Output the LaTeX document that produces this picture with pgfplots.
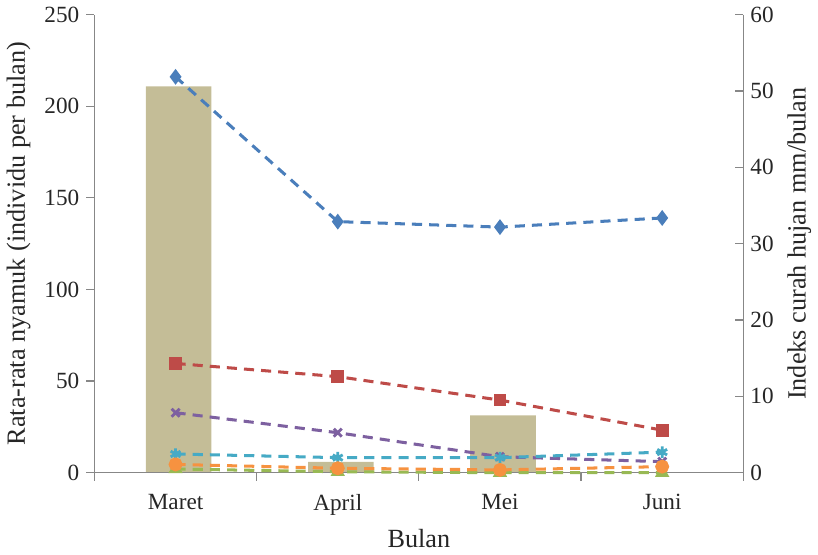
\documentclass[border=0pt]{standalone}
\usepackage{fontspec}
\setmainfont{Liberation Serif}
\usepackage{pgfplots}
\pgfplotsset{compat=1.18}

\definecolor{sBlue}{HTML}{4A7EBB}
\definecolor{sRed}{HTML}{BE4B48}
\definecolor{sGreen}{HTML}{98B954}
\definecolor{sPurple}{HTML}{7D60A0}
\definecolor{sCyan}{HTML}{46AAC5}
\definecolor{sOrange}{HTML}{F69240}
\definecolor{barTan}{HTML}{C4BD97}
\definecolor{axGray}{HTML}{878787}

\pgfplotsset{
  base/.style={
    scale only axis,
    width=321.5pt, height=227pt,
    xmin=-0.5, xmax=3.5,
    ymin=0,
    axis line style={draw=axGray, line width=0.6pt},
    tick style={draw=axGray, line width=0.6pt},
    major tick length=4pt,
    ticklabel style={font=\fontsize{11.5}{13}\selectfont, text=black!85},
    label style={font=\fontsize{13}{15}\selectfont, text=black!85},
    /pgf/number format/assume math mode=true,
    yticklabel={\pgfmathprintnumber{\tick}},
    clip=false,
  },
  ln/.style={dashed, dash pattern=on 5pt off 3.5pt, line width=1.5pt},
}

\begin{document}
\begin{tikzpicture}
% rainfall bars, right axis
\begin{axis}[base,
  ymax=60,
  axis y line*=right,
  axis x line=none,
  ytick={0,10,...,60},
  tick align=inside,
  ylabel={Indeks curah hujan mm/bulan},
  bar width=32.5pt,
]
\addplot[ybar, fill=barTan, draw=none, bar shift=1.5pt] coordinates {
  (0,50.6) (1,1.4) (2,7.5) (3,0)
};
\end{axis}
% mosquito counts, left axis
\begin{axis}[base,
  ymax=250,
  axis y line*=left,
  axis x line*=bottom,
  ytick={0,50,...,250},
  tick align=outside,
  xtick={0,1,2,3},
  xticklabels={Maret,April,Mei,Juni},
  minor xtick={-0.5,0.5,1.5,2.5,3.5},
  major x tick style={draw=none},
  minor tick length=4pt,
  xticklabel style={yshift=-3pt},
  xlabel={Bulan},
  ylabel={Rata-rata nyamuk (individu per bulan)},
]
\addplot[ln, sBlue, mark=diamond*, mark size=2.7pt, mark options={solid}] coordinates {
  (0,216) (1,137) (2,134) (3,139)
};
\addplot[ln, sRed, mark=square*, mark size=2.4pt, mark options={solid}] coordinates {
  (0,59.6) (1,52.4) (2,39.6) (3,23.2)
};
\addplot[ln, sGreen, mark=triangle*, mark size=2.6pt, mark options={solid}] coordinates {
  (0,2) (1,0.5) (2,0) (3,0)
};
\addplot[ln, sPurple, mark=x, mark size=2.8pt, mark options={solid, line width=1.4pt}] coordinates {
  (0,32.7) (1,21.8) (2,8.7) (3,6)
};
\addplot[ln, sCyan, mark=asterisk, mark size=2.8pt, mark options={solid, line width=1.4pt}] coordinates {
  (0,10.2) (1,8.2) (2,8.2) (3,11.2)
};
\addplot[ln, sOrange, mark=*, mark size=2.7pt, mark options={solid}] coordinates {
  (0,4.5) (1,2.4) (2,1.5) (3,3.3)
};
\end{axis}
\end{tikzpicture}
\end{document}
